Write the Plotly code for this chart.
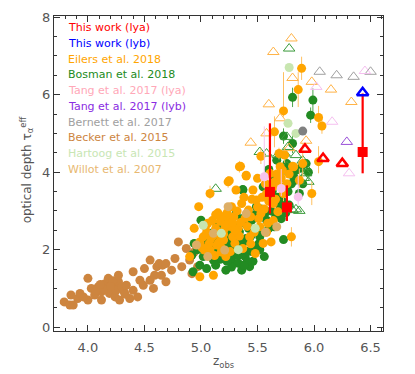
import plotly.graph_objects as go

# ---------------- data ----------------
becker_z = [3.79,3.84,3.87,3.85,3.91,3.93,4.00,4.00,4.03,4.06,4.09,4.12,4.12,4.15,4.16,4.18,4.19,4.21,4.24,4.24,
            4.25,4.27,4.28,4.30,4.32,4.34,4.37,4.40,4.40,4.44,4.46,4.49,4.50,4.55,4.55,4.58,4.59,4.61,4.63,4.65,
            4.66,4.69,4.69,4.74,4.77,4.80,4.83,4.87,4.90,4.92,4.94,4.97,3.96,4.07,4.14,4.22,4.27,4.33,4.11,4.20]
becker_tau = [0.65,0.57,0.57,0.83,0.74,0.87,1.26,0.70,1.00,0.83,1.04,0.91,0.70,1.12,1.00,1.26,0.87,1.08,1.17,0.78,
              0.95,1.17,0.70,1.04,0.91,1.08,0.74,1.43,0.95,0.78,1.21,1.08,1.51,1.73,1.21,1.00,1.34,1.56,1.64,1.34,
              1.60,1.64,1.17,1.47,1.77,2.20,1.56,2.03,1.73,1.38,1.94,1.56,0.78,0.95,0.98,1.20,1.34,0.85,1.10,1.05]

bosman_z = [4.92,4.93,4.94,4.99,5.00,5.02,5.05,5.08,5.11,5.14,5.18,5.22,5.24,5.27,5.30,5.31,5.34,5.36,5.37,5.39,
            5.40,5.43,5.45,5.48,5.49,5.52,5.55,5.56,5.58,5.61,5.64,5.65,5.70,5.73,5.74,5.76,5.82,5.87,5.93,
            5.81,5.99,5.97,5.73,5.81,5.67,5.60,5.37,5.83,5.75,
            4.97,5.04,5.06,5.09,5.12,5.15,5.17,5.20,5.21,5.23,5.25,5.26,5.28,5.29,5.32,5.33,5.35,5.36,5.38,5.41,
            5.42,5.44,5.46,5.47,5.50,5.51,5.53,5.54,5.57,5.59,5.60,5.62,5.63,5.66,5.68,5.69,5.71,5.72,5.75,5.77,
            5.78,5.80,5.84,5.88,5.90,5.95,5.13,5.19,5.40,5.30,
            5.27,5.33,5.41,5.45,5.52,5.02,5.10,5.17,5.23,5.38]
bosman_tau = [1.86,1.43,2.16,1.60,2.76,1.82,1.51,2.42,1.73,2.59,2.16,1.47,2.46,1.73,1.86,2.93,2.46,1.47,3.54,1.82,
              2.29,1.56,2.76,2.07,3.11,2.33,3.62,1.82,2.76,3.28,3.79,2.59,3.11,2.26,3.62,4.22,3.88,3.45,4.22,
              5.93,5.86,5.47,4.93,4.74,4.31,4.07,3.55,3.79,4.05,
              2.00,2.20,1.95,2.10,2.30,1.95,1.75,2.00,2.70,2.15,1.90,2.30,2.05,2.60,2.15,1.65,2.05,2.80,2.20,1.95,
              2.55,2.35,1.70,2.90,2.50,2.15,3.05,2.45,2.95,3.40,2.55,3.00,3.50,2.85,3.35,3.95,2.80,3.25,2.95,3.50,
              3.15,3.70,4.05,4.10,3.70,4.00,1.60,2.45,2.65,2.40,
              1.55,1.85,1.70,1.95,2.00,2.05,1.90,2.05,1.70,1.60]
bosman_err = [0.08]*39 + [0.25,0.3,0.2,0.2,0.25,0.15,0.1,0.1,0.1,0.1] + [0.08]*60

bosman_lim_z = [5.78,5.13,5.52,5.58,5.74,5.77,5.68,5.84,5.92,5.93,5.95,5.81,5.84,5.76,5.76,5.90,5.91,5.87]
bosman_lim_tau = [7.19,3.57,4.52,4.48,4.48,4.65,4.44,4.44,4.14,3.97,3.75,3.02,3.04,4.91,4.15,4.30,3.85,3.00]

eilers_z = [4.90,4.94,4.99,4.99,4.98,5.02,5.03,5.08,5.06,5.08,5.11,5.11,5.14,5.17,5.18,5.20,5.22,5.24,5.25,5.27,
            5.28,5.30,5.31,5.33,5.34,5.36,5.37,5.39,5.40,5.42,5.43,5.46,5.48,5.49,5.50,5.52,5.53,5.55,5.58,5.59,
            5.61,5.62,5.64,5.65,5.68,5.70,5.73,5.80,5.82,5.87,5.90,5.98,6.04,
            5.89,5.86,5.73,5.65,6.04,6.07,5.53,5.69,5.74,5.35,5.40,5.25,5.81,
            5.05,5.10,5.13,5.16,5.19,5.21,5.23,5.26,5.29,5.32,5.35,5.38,5.41,5.44,5.45,5.47,5.50,5.51,5.54,5.56,
            5.57,5.60,5.63,5.66,5.67,5.69,5.71,5.72,5.76,5.78,5.15,5.07,5.12,5.18,5.26,5.34,5.44,5.58,5.64,
            5.01,5.09,5.16,5.22,5.30,5.04,5.13,5.20,5.28]
eilers_tau = [1.82,2.55,1.30,2.20,3.11,2.33,1.99,3.45,2.68,1.99,1.34,2.37,2.12,2.73,1.94,2.25,1.82,3.75,2.77,3.11,
              2.33,2.16,3.54,2.55,4.14,3.19,2.03,2.81,3.92,3.02,2.33,3.54,1.90,3.28,3.84,2.59,2.93,2.16,3.45,2.68,
              3.97,2.20,3.19,3.75,2.98,4.14,3.45,2.33,4.14,3.79,4.22,3.45,4.27,
              6.68,6.13,5.58,5.04,5.41,5.19,4.41,4.48,4.44,4.15,3.90,3.78,4.15,
              2.45,2.75,2.55,2.40,2.85,2.55,2.95,2.60,2.85,3.00,2.70,3.35,2.60,2.85,3.30,2.45,3.10,2.80,3.35,3.05,
              3.70,3.25,3.60,3.30,3.95,3.65,3.85,4.05,3.70,3.95,2.95,2.15,1.85,2.05,1.95,2.35,2.15,2.45,2.75,
              2.05,2.30,2.20,2.65,2.50,2.60,2.90,2.40,2.70]
eilers_err_up = ([0.1]*7 + [0.2] + [0.1]*9 + [0.15] + [0.1]*6 + [0.15] + [0.1]*15 + [0.3] + [0.1]*5 + [0.2, 0.25, 0.1, 0.3] +
                 [0.5,0.3,0.4,0.3,0.45,1.0,0.4,0.3,0.2,0.2,0.15,0.2] + [0.1]*45)
eilers_err_lo = ([0.1]*7 + [0.15] + [0.1]*9 + [0.15] + [0.1]*6 + [0.15] + [0.1]*15 + [0.3] + [0.1]*5 + [0.2, 0.25, 0.1, 0.2] +
                 [0.5,0.3,0.3,0.3,0.45,0.15,0.4,0.3,0.2,0.2,0.15,0.2] + [0.1]*45)

eilers_lim_z = [5.80,5.64,5.81,5.98,6.15,6.33,5.60,5.70,5.44,5.93,5.58,5.78]
eilers_lim_tau = [7.45,7.10,6.43,6.33,6.13,5.81,5.75,5.39,4.76,4.81,5.00,4.62]

tang_a_z = [5.56,5.71,5.86]
tang_a_tau = [3.88,3.58,3.36]
tang_a_err_up = [1.3,0.5,0.55]
tang_a_err_lo = [0.3,0.2,0.2]
tang_a_lim_z = [6.45,6.02,6.16,6.31]
tang_a_lim_tau = [6.61,6.20,5.30,3.97]

tang_b_lim_z = [6.29]
tang_b_lim_tau = [4.78]

bernett_z = [5.90]
bernett_tau = [5.06]
bernett_lim_z = [6.05,6.20,6.35,6.50]
bernett_lim_tau = [6.59,6.50,6.46,6.59]

hartoog_z = [5.78,5.77,5.84,5.02,5.18,5.33,5.48]
hartoog_tau = [6.70,5.26,5.00,2.63,2.42,2.00,2.55]

willot_z = [4.96,5.06,5.11,5.21,5.24,5.40,5.67,5.57]
willot_tau = [2.12,1.82,2.42,1.99,3.11,2.93,2.59,2.45]

this_a_z = [5.61,5.76,6.43]
this_a_tau = [3.49,3.09,4.52]
this_a_err_up = [1.77,0.57,1.51]
this_a_err_lo = [0.56,0.35,0.55]
this_a_lim_z = [5.92,6.08,6.25]
this_a_lim_tau = [4.59,4.35,4.22]

this_b_lim_z = [6.43]
this_b_lim_tau = [6.05]

legend_names = ["This work (lya)", "This work (lyb)", "Eilers et al. 2018", "Bosman et al. 2018",
                "Tang et al. 2017 (lya)", "Tang et al. 2017 (lyb)", "Bernett et al. 2017",
                "Becker et al. 2015", "Hartoog et al. 2015", "Willot et al. 2007"]
legend_colors = ["#FF0000", "#0000FF", "#FFA500", "#228B22", "#FFA8B8", "#8A2BE2", "#A0A0A0",
                 "#CD853F", "#C8E6B4", "#E8B870"]

x_title = "z<sub>obs</sub>"
y_title = "optical depth τ<sub>α</sub><sup>eff</sup>"

# ---------------- figure ----------------
fig = go.Figure()
MS = 9

def circles(x, y, color, eup=None, elo=None, ecolor=None, ethick=1):
    kw = {}
    if eup is not None:
        kw["error_y"] = dict(type="data", symmetric=False, array=eup, arrayminus=elo,
                             color=ecolor or color, thickness=ethick, width=0)
    fig.add_trace(go.Scatter(x=x, y=y, mode="markers",
                             marker=dict(symbol="circle", size=MS, color=color, line=dict(width=0)),
                             showlegend=False, **kw))

def tris(x, y, color, lw=1, size=10):
    fig.add_trace(go.Scatter(x=x, y=y, mode="markers",
                             marker=dict(symbol="triangle-up-open", size=size, color=color,
                                         line=dict(width=lw, color=color)),
                             showlegend=False))

circles(becker_z, becker_tau, "#CD853F")
circles(bosman_z, bosman_tau, "#228B22", bosman_err, bosman_err, "#4CA64C")
tris(bosman_lim_z, bosman_lim_tau, "#3A9A3A")
circles(eilers_z, eilers_tau, "#FFA500", eilers_err_up, eilers_err_lo, "#FFC060")
tris(eilers_lim_z, eilers_lim_tau, "#FFB347")
circles(willot_z, willot_tau, "#DDAE66")
circles(hartoog_z, hartoog_tau, "#C8E6B0")
circles(bernett_z, bernett_tau, "#808080")
tris(bernett_lim_z, bernett_lim_tau, "#A0A0A0")
circles(tang_a_z, tang_a_tau, "#F7C3EE", tang_a_err_up, tang_a_err_lo, "#F7C3EE")
tris(tang_a_lim_z, tang_a_lim_tau, "#F5C0F0")
tris(tang_b_lim_z, tang_b_lim_tau, "#9A50D8")
fig.add_trace(go.Scatter(x=this_a_z, y=this_a_tau, mode="markers",
                         marker=dict(symbol="square", size=10, color="#FF0000", line=dict(width=0)),
                         error_y=dict(type="data", symmetric=False, array=this_a_err_up,
                                      arrayminus=this_a_err_lo, color="#FF0000", thickness=2.2, width=0),
                         showlegend=False))
tris(this_a_lim_z, this_a_lim_tau, "#FF0000", lw=2.5, size=10)
tris(this_b_lim_z, this_b_lim_tau, "#0000FF", lw=2.5, size=10)

for i, (name, col) in enumerate(zip(legend_names, legend_colors)):
    fig.add_annotation(x=0.036, y=0.963 - i * 0.05, xref="paper", yref="paper",
                       text=name, showarrow=False, xanchor="left", yanchor="middle",
                       font=dict(family="DejaVu Sans", size=11, color=col))

FONT = "DejaVu Sans ExtraLight, DejaVu Sans"
fig.add_annotation(x=0.515, y=-0.097, xref="paper", yref="paper", text=x_title, showarrow=False,
                   xanchor="center", yanchor="middle",
                   font=dict(family=FONT, size=12, color="#555555"))
fig.add_annotation(x=-0.082, y=0.51, xref="paper", yref="paper", text=y_title, showarrow=False,
                   textangle=-90, xanchor="center", yanchor="middle",
                   font=dict(family=FONT, size=12, color="#555555"))

axis_common = dict(showline=True, linecolor="#333333", linewidth=1, mirror="allticks",
                   ticks="inside", tickcolor="#333333", showgrid=False, zeroline=False,
                   automargin=False,
                   tickfont=dict(family=FONT, size=13, color="#555555"))

fig.update_xaxes(range=[3.70, 6.61], dtick=0.5, tick0=4.0, tickformat=".1f", ticklen=6,
                 ticklabelstandoff=4,
                 minor=dict(dtick=0.1, ticks="inside", ticklen=3, tickcolor="#333333"),
                 **axis_common)
fig.update_yaxes(range=[-0.1, 8.03], dtick=2, tick0=0, ticklen=6,
                 minor=dict(dtick=0.5, ticks="inside", ticklen=3, tickcolor="#333333"),
                 **axis_common)

# page body has an 8px default margin, so the figure is 8px smaller than the window
fig.update_layout(width=407, height=366, margin=dict(l=46, r=32, t=8, b=43),
                  plot_bgcolor="white", paper_bgcolor="white", showlegend=False)

fig.write_html("out.html")
